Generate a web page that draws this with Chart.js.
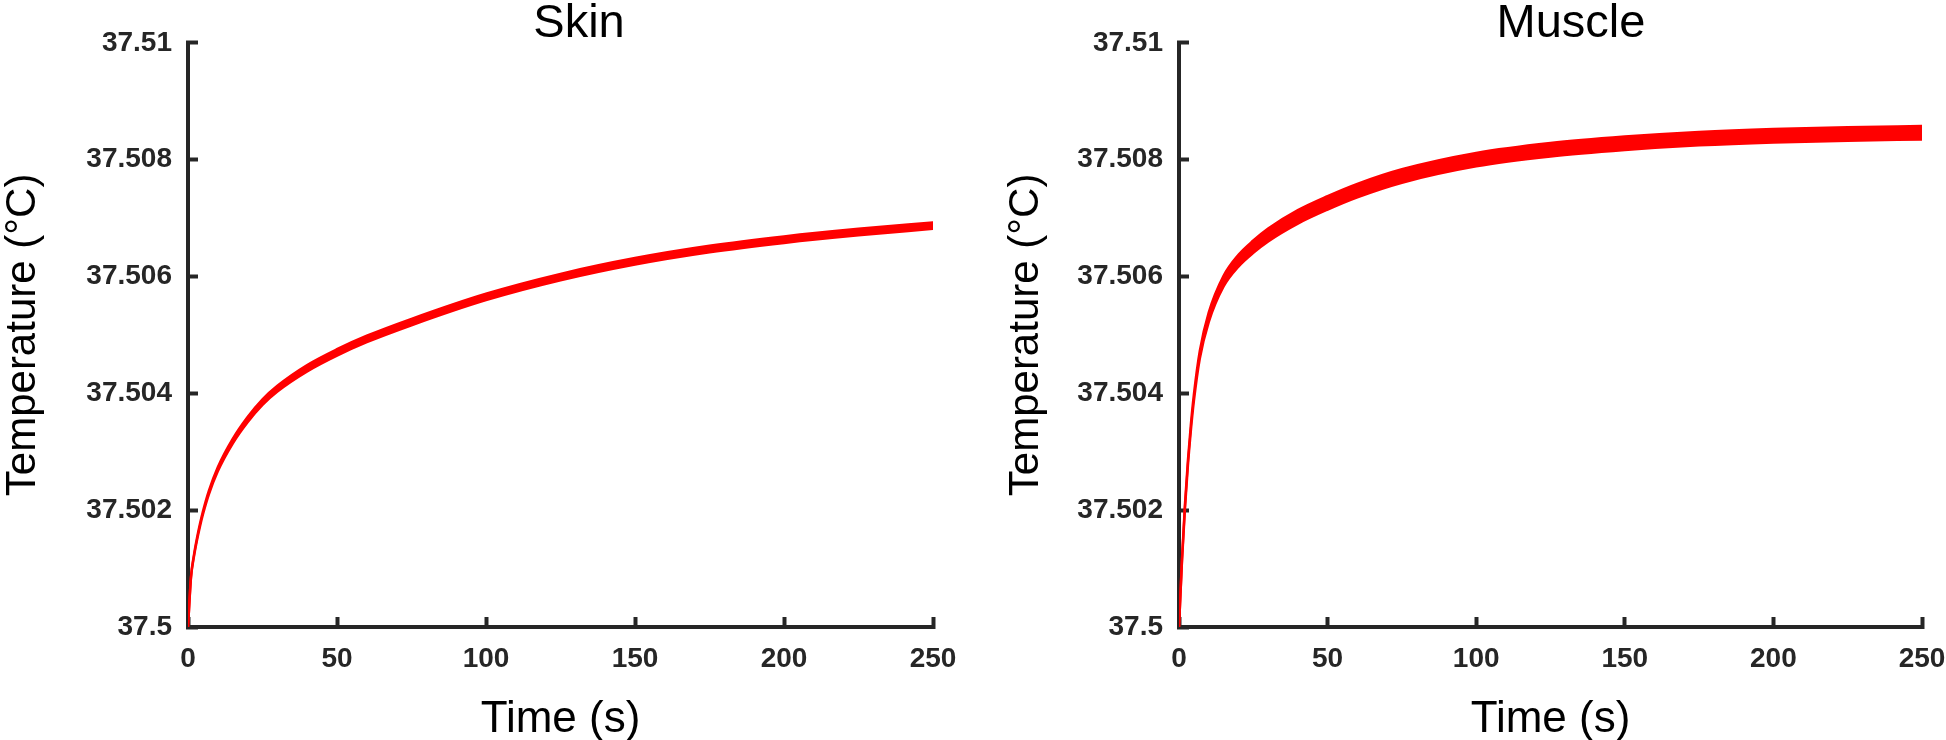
<!DOCTYPE html>
<html>
<head>
<meta charset="utf-8">
<script src="https://cdn.jsdelivr.net/npm/chart.js@4.4.1/dist/chart.umd.min.js"></script>
<style>
    html, body { margin: 0; padding: 0; background: #ffffff; overflow: hidden; }
    body { width: 1946px; height: 740px; position: relative; }
    .panel { position: absolute; top: 0; height: 740px; }
</style>
</head>
<body>
<div class="panel" style="left: 0px; width: 1158px;"><canvas id="skin_chart"></canvas></div>
<div class="panel" style="left: 973px; width: 1196px;"><canvas id="muscle_chart"></canvas></div>
<script>
// time points (s)
const time_s = [0, 1, 2, 3, 4, 5, 7, 10, 15, 20, 25, 30, 40, 50, 60, 75, 100, 125, 150, 175, 200, 225, 250];

// the red traces are thick bands, so each one is kept as an upper and a lower edge
const skin_upper = [37.5, 37.50086, 37.501235, 37.50152, 37.501762, 37.501975, 37.50233, 37.502735, 37.50322, 37.503595, 37.503898, 37.50413,
    37.504485, 37.504755, 37.504985, 37.505275, 37.505705, 37.506045, 37.506315, 37.506525, 37.506685, 37.506815, 37.506925];
const skin_lower = [37.5, 37.50084, 37.501205, 37.50148, 37.501718, 37.501925, 37.50227, 37.502665, 37.50314, 37.503505, 37.503802, 37.50403,
    37.504375, 37.504645, 37.504875, 37.505165, 37.505595, 37.505935, 37.506205, 37.506415, 37.506575, 37.506705, 37.506815];

const muscle_upper = [37.5, 37.501155, 37.50209, 37.50285, 37.50347, 37.503975, 37.504725, 37.50538, 37.50601, 37.50637, 37.506615, 37.50682,
    37.507135, 37.507375, 37.507585, 37.507835, 37.508115, 37.508285, 37.508395, 37.508475, 37.508525, 37.508555, 37.508575];
const muscle_lower = [37.5, 37.501125, 37.50203, 37.50277, 37.50337, 37.503865, 37.504595, 37.50522, 37.50583, 37.50617, 37.506405, 37.5066,
    37.506905, 37.507145, 37.507355, 37.507605, 37.507885, 37.508055, 37.508165, 37.508245, 37.508295, 37.508325, 37.508345];

const y_ticks = [37.5, 37.502, 37.504, 37.506, 37.508, 37.51];
const x_ticks = [0, 50, 100, 150, 200, 250];

const axis_color = "#262626";
const font_family = "'Liberation Sans', Arial, sans-serif";

function to_points(values)
{
    return values.map((v, i) => ({ x: time_s[i], y: v }));
}

function make_chart(canvas_id, title_text, upper, lower, y_width, spacer_width, y_title_pad)
{
    return new Chart(canvas_id,
    {
        type: "line",
        data:
        {
            datasets:
            [
                {
                    data: to_points(lower),
                    borderColor: "rgb(255, 0, 0)",
                    borderWidth: 2.5,
                    borderCapStyle: "round",
                    pointRadius: 0,
                    cubicInterpolationMode: "monotone",
                    fill: false
                },
                {
                    data: to_points(upper),
                    borderColor: "rgb(255, 0, 0)",
                    backgroundColor: "rgb(255, 0, 0)",
                    borderWidth: 2.5,
                    borderCapStyle: "round",
                    pointRadius: 0,
                    cubicInterpolationMode: "monotone",
                    fill: "-1"
                }
            ]
        },
        options:
        {
            animation: false,
            responsive: true,
            maintainAspectRatio: false,
            layout: { padding: 0 },
            plugins:
            {
                legend: { display: false },
                tooltip: { enabled: false },
                title:
                {
                    display: true,
                    text: title_text,
                    color: "#000000",
                    font: { family: font_family, size: 47, weight: "normal" },
                    padding: { top: -7, bottom: -9.4 }
                }
            },
            scales:
            {
                x:
                {
                    type: "linear",
                    min: 0,
                    max: 250,
                    afterBuildTicks: (s) => { s.ticks = x_ticks.map(v => ({ value: v })); },
                    afterFit: (s) => { s.height = 113; },
                    ticks:
                    {
                        color: axis_color,
                        padding: 25,
                        maxRotation: 0,
                        font: { family: font_family, size: 28, weight: "bold" }
                    },
                    grid:
                    {
                        drawOnChartArea: false,
                        drawTicks: true,
                        tickLength: -10,
                        tickWidth: 4,
                        tickColor: axis_color
                    },
                    border: { display: true, width: 4, color: axis_color },
                    title:
                    {
                        display: true,
                        text: "Time (s)",
                        color: "#000000",
                        font: { family: font_family, size: 44, weight: "normal" },
                        padding: { top: 0, bottom: -6 }
                    }
                },
                y:
                {
                    type: "linear",
                    position: "left",
                    min: 37.5,
                    max: 37.51,
                    afterBuildTicks: (s) => { s.ticks = y_ticks.map(v => ({ value: v })); },
                    afterFit: (s) => { s.width = y_width; },
                    ticks:
                    {
                        color: axis_color,
                        padding: 26,
                        font: { family: font_family, size: 28, weight: "bold" },
                        callback: (v) => String(Number(v.toFixed(3)))
                    },
                    grid:
                    {
                        drawOnChartArea: false,
                        drawTicks: true,
                        tickLength: -10,
                        tickWidth: 4,
                        tickColor: axis_color
                    },
                    border: { display: true, width: 4, color: axis_color },
                    title:
                    {
                        display: true,
                        text: "Temperature (\u00B0C)",
                        color: "#000000",
                        font: { family: font_family, size: 42, weight: "normal" },
                        padding: { top: y_title_pad, bottom: 0 }
                    }
                },
                // empty right-hand scale, only there to push the plot left so the title sits where it does in the figure
                spacer:
                {
                    type: "linear",
                    position: "right",
                    display: true,
                    afterFit: (s) => { s.width = spacer_width; },
                    ticks: { display: false },
                    grid: { display: false },
                    border: { display: false }
                }
            }
        }
    });
}

const skin_chart = make_chart("skin_chart", "Skin", skin_upper, skin_lower, 188, 225, -2);
const muscle_chart = make_chart("muscle_chart", "Muscle", muscle_upper, muscle_lower, 206, 247, 28);
</script>
</body>
</html>
